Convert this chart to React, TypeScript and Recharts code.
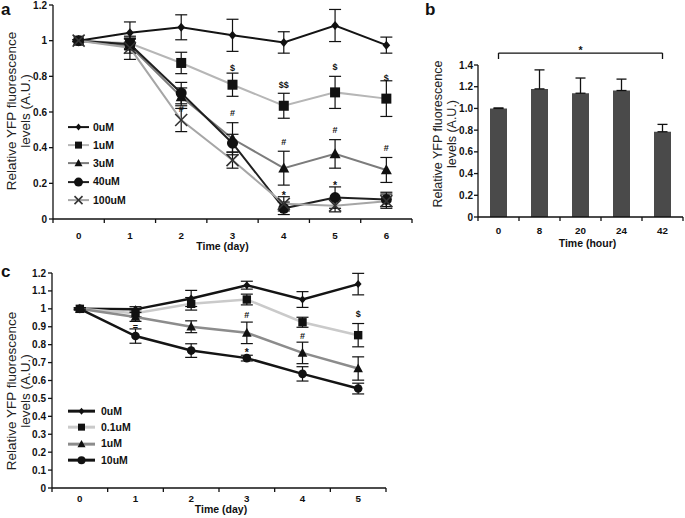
import React from 'react';
import {
  LineChart,
  Line,
  BarChart,
  Bar,
  XAxis,
  YAxis,
  ErrorBar,
  Legend,
  ReferenceDot,
  ReferenceLine,
} from 'recharts';

const FONT = '"Liberation Sans", Arial, Helvetica, sans-serif';
const INK = '#111';

// ---- panel a: days 0-6, five doses
const daysA = [0, 1, 2, 3, 4, 5, 6];
const a0uM = [1.0, 1.045, 1.075, 1.03, 0.99, 1.085, 0.975];
const a0uMErr = [0.005, 0.06, 0.07, 0.09, 0.06, 0.09, 0.045];
const a1uM = [1.0, 0.985, 0.875, 0.753, 0.635, 0.71, 0.675];
const a1uMErr = [0.005, 0.03, 0.06, 0.065, 0.07, 0.09, 0.1];
const a3uM = [1.0, 0.97, 0.685, 0.45, 0.285, 0.365, 0.275];
const a3uMErr = [0.005, 0.04, 0.05, 0.09, 0.095, 0.08, 0.07];
const a40uM = [1.0, 0.98, 0.706, 0.425, 0.06, 0.12, 0.11];
const a40uMErr = [0.005, 0.03, 0.06, 0.05, 0.035, 0.06, 0.04];
const a100uM = [1.0, 0.96, 0.555, 0.33, 0.085, 0.075, 0.1];
const a100uMErr = [0.005, 0.065, 0.065, 0.045, 0.04, 0.035, 0.04];
const ticksYA = [0, 0.2, 0.4, 0.6, 0.8, 1, 1.2];
const ticksXA = [-0.5, 0, 0.5, 1, 1.5, 2, 2.5, 3, 3.5, 4, 4.5, 5, 5.5, 6, 6.5];
const marksA = [
  { x: 2, y: 0.615, t: '#' },
  { x: 3, y: 0.85, t: '$' },
  { x: 3, y: 0.595, t: '#' },
  { x: 4, y: 0.753, t: '$$' },
  { x: 4, y: 0.43, t: '#' },
  { x: 4, y: 0.153, t: '*' },
  { x: 5, y: 0.855, t: '$' },
  { x: 5, y: 0.5, t: '#' },
  { x: 5, y: 0.21, t: '*' },
  { x: 6, y: 0.79, t: '$' },
  { x: 6, y: 0.4, t: '#' },
];

// ---- panel b: hours
const hoursB = ['0', '8', '20', '24', '42'];
const valsB = [1.0, 1.18, 1.14, 1.165, 0.785];
const errB = [0.004, 0.175, 0.14, 0.105, 0.068];
const ticksYB = [0, 0.2, 0.4, 0.6, 0.8, 1.0, 1.2, 1.4];
const ticksXB = [-0.5, 0, 0.5, 1, 1.5, 2, 2.5, 3, 3.5, 4, 4.5];
const bracketB = { from: 0, to: 4, top: 1.51, foot: 1.455, star: 1.565 };

// ---- panel c: days 0-5, four doses
const daysC = [0, 1, 2, 3, 4, 5];
const c0uM = [1.0, 0.997, 1.058, 1.132, 1.052, 1.138];
const c0uMErr = [0.005, 0.015, 0.045, 0.022, 0.044, 0.06];
const c01uM = [1.0, 0.975, 1.028, 1.052, 0.925, 0.853];
const c01uMErr = [0.005, 0.02, 0.035, 0.03, 0.028, 0.065];
const c1uM = [1.0, 0.955, 0.9, 0.866, 0.754, 0.667];
const c1uMErr = [0.005, 0.025, 0.033, 0.06, 0.06, 0.065];
const c10uM = [1.0, 0.848, 0.767, 0.725, 0.637, 0.555];
const c10uMErr = [0.005, 0.04, 0.038, 0.016, 0.04, 0.03];
const ticksYC = [0, 0.1, 0.2, 0.3, 0.4, 0.5, 0.6, 0.7, 0.8, 0.9, 1, 1.1, 1.2];
const ticksXC = [-0.5, 0, 0.5, 1, 1.5, 2, 2.5, 3, 3.5, 4, 4.5, 5, 5.5];
const marksC = [
  { x: 1, y: 0.9, t: '=' },
  { x: 3, y: 0.965, t: '#' },
  { x: 3, y: 0.775, t: '*' },
  { x: 4, y: 0.85, t: '#' },
  { x: 5, y: 0.974, t: '$' },
];

const dataA = daysA.map((d, i) => ({
  day: d,
  v0: a0uM[i], e0: a0uMErr[i],
  v1: a1uM[i], e1: a1uMErr[i],
  v3: a3uM[i], e3: a3uMErr[i],
  v40: a40uM[i], e40: a40uMErr[i],
  v100: a100uM[i], e100: a100uMErr[i],
}));

const dataB = hoursB.map((h, i) => ({ idx: i, hour: h, v: valsB[i], e: [0, errB[i]] }));

const dataC = daysC.map((d, i) => ({
  day: d,
  v0: c0uM[i], e0: c0uMErr[i],
  v01: c01uM[i], e01: c01uMErr[i],
  v1: c1uM[i], e1: c1uMErr[i],
  v10: c10uM[i], e10: c10uMErr[i],
}));

type Shape = 'diamond' | 'square' | 'triangle' | 'circle' | 'cross';
interface Series {
  key: string;
  err: string;
  name: string;
  color: string;
  shape: Shape;
  size: number;
  legendSize: number;
  width: number;
}

const seriesA: Series[] = [
  { key: 'v0', err: 'e0', name: '0uM', color: '#141414', shape: 'diamond', size: 4.5, legendSize: 3.5, width: 2 },
  { key: 'v1', err: 'e1', name: '1uM', color: '#b6b6b6', shape: 'square', size: 5, legendSize: 3.5, width: 2 },
  { key: 'v3', err: 'e3', name: '3uM', color: '#7c7c7c', shape: 'triangle', size: 5.5, legendSize: 4, width: 2 },
  { key: 'v40', err: 'e40', name: '40uM', color: '#202020', shape: 'circle', size: 5.5, legendSize: 4.5, width: 2 },
  { key: 'v100', err: 'e100', name: '100uM', color: '#a6a6a6', shape: 'cross', size: 6, legendSize: 4, width: 2 },
];

const seriesC: Series[] = [
  { key: 'v0', err: 'e0', name: '0uM', color: '#141414', shape: 'diamond', size: 4, legendSize: 3.5, width: 2.5 },
  { key: 'v01', err: 'e01', name: '0.1uM', color: '#cacaca', shape: 'square', size: 4.2, legendSize: 3.5, width: 2.5 },
  { key: 'v1', err: 'e1', name: '1uM', color: '#8c8c8c', shape: 'triangle', size: 4.8, legendSize: 4, width: 2.5 },
  { key: 'v10', err: 'e10', name: '10uM', color: '#141414', shape: 'circle', size: 4.3, legendSize: 4, width: 2.5 },
];

function marker(shape: Shape, cx: number, cy: number, s: number, fill = INK) {
  switch (shape) {
    case 'diamond':
      return <polygon points={`${cx},${cy - s} ${cx + s * 0.85},${cy} ${cx},${cy + s} ${cx - s * 0.85},${cy}`} fill={fill} />;
    case 'square':
      return <rect x={cx - s} y={cy - s} width={2 * s} height={2 * s} fill={fill} />;
    case 'triangle':
      return <polygon points={`${cx},${cy - s * 1.05} ${cx + s},${cy + s * 0.8} ${cx - s},${cy + s * 0.8}`} fill={fill} />;
    case 'circle':
      return <circle cx={cx} cy={cy} r={s} fill={fill} />;
    default:
      return (
        <g stroke="#333" strokeWidth={1.6}>
          <line x1={cx - s} y1={cy - s} x2={cx + s} y2={cy + s} />
          <line x1={cx - s} y1={cy + s} x2={cx + s} y2={cy - s} />
        </g>
      );
  }
}

const fmtPlain = (v: number) => String(Number(v.toFixed(1)));
const fmtFixed = (v: number) => (v === 0 ? '0' : v.toFixed(1));

// integer ticks carry labels, half ticks carry the small marks
const makeXTick = (offset: number, label: (v: number) => string) => (props: any) => {
  const { x, y, payload } = props;
  const v = payload.value as number;
  if (Number.isInteger(v)) {
    return (
      <text x={x} y={y} dy="0.71em" textAnchor="middle" fill={INK} fontSize={9.8} fontWeight="bold" fontFamily={FONT}>
        {label(v)}
      </text>
    );
  }
  return <line x1={x} x2={x} y1={y - offset} y2={y - offset + 4} stroke={INK} strokeWidth={1.3} />;
};

const yTitle = (x: number, y: number, size: number, gap: number) => () => (
  <text transform={`translate(${x},${y}) rotate(-90)`} textAnchor="middle" fontSize={size} fill="#222" fontFamily={FONT}>
    <tspan x={0} dy={0}>Relative YFP fluorescence</tspan>
    <tspan x={0} dy={gap}>levels (A.U.)</tspan>
  </text>
);

const xTitle = (text: string, x: number, y: number) => () => (
  <text x={x} y={y} textAnchor="middle" fontSize={10.5} fontWeight="bold" fill={INK} fontFamily={FONT}>
    {text}
  </text>
);

const markShape = (t: string) => (p: any) => (
  <text
    x={p.cx}
    y={p.cy}
    dy={t === '*' ? '0.7em' : '0.35em'}
    textAnchor="middle"
    fontSize={t === '*' ? 10.5 : 9}
    fontWeight="bold"
    fill={INK}
    fontFamily={FONT}
  >
    {t}
  </text>
);

function LegendBox({ series, rowH, lineW, lineStroke, gap }: { series: Series[]; rowH: number; lineW: number; lineStroke: number; gap: number }) {
  return (
    <div style={{ fontFamily: FONT, fontWeight: 'bold', fontSize: 10.5, color: INK }}>
      {series.map((s) => (
        <div key={s.name} style={{ display: 'flex', alignItems: 'center', height: rowH }}>
          <svg width={lineW} height={rowH} style={{ display: 'block' }}>
            <line x1={0} x2={lineW} y1={rowH / 2} y2={rowH / 2} stroke={s.color} strokeWidth={lineStroke} />
            {marker(s.shape, lineW / 2, rowH / 2, s.legendSize)}
          </svg>
          <span style={{ marginLeft: gap, lineHeight: 1 }}>{s.name}</span>
        </div>
      ))}
    </div>
  );
}

const yTick = { fill: INK, fontSize: 10, fontWeight: 'bold', fontFamily: FONT };

function renderLines(series: Series[], capW: number) {
  return series.map((s) => (
    <Line
      key={s.key}
      type="linear"
      dataKey={s.key}
      name={s.name}
      stroke={s.color}
      strokeWidth={s.width}
      isAnimationActive={false}
      dot={(p: any) => <g key={`${s.key}-${p.index}`}>{marker(s.shape, p.cx, p.cy, s.size)}</g>}
      activeDot={false}
    >
      <ErrorBar dataKey={s.err} width={capW} stroke={INK} strokeWidth={1.2} direction="y" />
    </Line>
  ));
}

export default function App() {
  return (
    <div style={{ position: 'absolute', left: 0, top: 0, width: 685, height: 518, background: '#fff', overflow: 'hidden' }}>
      {/* panel a */}
      <div style={{ position: 'absolute', left: 0, top: 0 }}>
        <LineChart width={420} height={256} data={dataA} margin={{ top: 5, right: 8, bottom: 0, left: 0 }}>
          <XAxis
            dataKey="day"
            type="number"
            domain={[-0.5, 6.5]}
            ticks={ticksXA}
            interval={0}
            height={37}
            tickSize={4}
            tickMargin={9}
            tickLine={false}
            stroke={INK}
            strokeWidth={1.3}
            tick={makeXTick(13, (v) => String(v))}
            label={{ content: xTitle('Time (day)', 222.5, 250) }}
          />
          <YAxis
            type="number"
            domain={[0, 1.2]}
            ticks={ticksYA}
            interval={0}
            width={53}
            tickSize={4}
            tickMargin={2}
            stroke={INK}
            strokeWidth={1.3}
            tick={yTick}
            tickFormatter={fmtPlain}
            label={{ content: yTitle(16, 111, 13.5, 13.5) }}
          />
          {renderLines(seriesA, 6)}
          {marksA.map((m, i) => (
            <ReferenceDot key={i} x={m.x} y={m.y} r={1} ifOverflow="visible" shape={markShape(m.t)} />
          ))}
          <Legend
            layout="vertical"
            align="center"
            verticalAlign="middle"
            wrapperStyle={{ left: 68, top: 118, width: 90 }}
            content={() => <LegendBox series={seriesA} rowH={18.2} lineW={21} lineStroke={2} gap={4} />}
          />
        </LineChart>
      </div>

      {/* panel b */}
      <div style={{ position: 'absolute', left: 400, top: 0 }}>
        <BarChart width={285} height={256} data={dataB} margin={{ top: 65, right: 2, bottom: 0, left: 0 }}>
          <XAxis
            dataKey="idx"
            type="number"
            domain={[-0.5, 4.5]}
            ticks={ticksXB}
            interval={0}
            height={39}
            tickSize={4}
            tickMargin={6}
            tickLine={false}
            stroke={INK}
            strokeWidth={1.3}
            tick={makeXTick(10, (v) => hoursB[v])}
            label={{ content: xTitle('Time (hour)', 187.5, 247) }}
          />
          <YAxis
            type="number"
            domain={[0, 1.4]}
            ticks={ticksYB}
            interval={0}
            width={78}
            tickSize={4}
            tickMargin={1}
            stroke={INK}
            strokeWidth={1.3}
            tick={yTick}
            tickFormatter={fmtFixed}
            label={{ content: yTitle(42, 134, 12.5, 13.5) }}
          />
          <Bar dataKey="v" fill="#4a4a4a" barSize={17} isAnimationActive={false}>
            <ErrorBar dataKey="e" width={5} stroke={INK} strokeWidth={1.3} direction="y" />
          </Bar>
          <ReferenceLine
            segment={[{ x: bracketB.from, y: bracketB.top }, { x: bracketB.to, y: bracketB.top }]}
            stroke={INK}
            strokeWidth={1.3}
            ifOverflow="visible"
          />
          <ReferenceLine
            segment={[{ x: bracketB.from, y: bracketB.top }, { x: bracketB.from, y: bracketB.foot }]}
            stroke={INK}
            strokeWidth={1.3}
            ifOverflow="visible"
          />
          <ReferenceLine
            segment={[{ x: bracketB.to, y: bracketB.top }, { x: bracketB.to, y: bracketB.foot }]}
            stroke={INK}
            strokeWidth={1.3}
            ifOverflow="visible"
          />
          <ReferenceDot x={2} y={bracketB.star} r={1} ifOverflow="visible" shape={markShape('*')} />
        </BarChart>
      </div>

      {/* panel c */}
      <div style={{ position: 'absolute', left: 0, top: 260 }}>
        <LineChart width={400} height={258} data={dataC} margin={{ top: 13, right: 14, bottom: 0, left: 0 }}>
          <XAxis
            dataKey="day"
            type="number"
            domain={[-0.5, 5.5]}
            ticks={ticksXC}
            interval={0}
            height={30}
            tickSize={4}
            tickMargin={3.5}
            tickLine={false}
            stroke={INK}
            strokeWidth={1.3}
            tick={makeXTick(7.5, (v) => String(v))}
            label={{ content: xTitle('Time (day)', 221, 253) }}
          />
          <YAxis
            type="number"
            domain={[0, 1.2]}
            ticks={ticksYC}
            interval={0}
            width={52}
            tickSize={4}
            tickMargin={2}
            stroke={INK}
            strokeWidth={1.3}
            tick={yTick}
            tickFormatter={fmtPlain}
            label={{ content: yTitle(16, 131, 13.5, 13.5) }}
          />
          {renderLines(seriesC, 6)}
          {marksC.map((m, i) => (
            <ReferenceDot key={i} x={m.x} y={m.y} r={1} ifOverflow="visible" shape={markShape(m.t)} />
          ))}
          <Legend
            layout="vertical"
            align="center"
            verticalAlign="middle"
            wrapperStyle={{ left: 68, top: 143, width: 90 }}
            content={() => <LegendBox series={seriesC} rowH={16.3} lineW={27} lineStroke={3} gap={6} />}
          />
        </LineChart>
      </div>

      {/* panel letters */}
      <svg width={685} height={518} style={{ position: 'absolute', left: 0, top: 0, pointerEvents: 'none' }}>
        <text x={1} y={15} fontSize={17} fontWeight="bold" fill={INK} fontFamily={FONT}>a</text>
        <text x={425} y={15} fontSize={17} fontWeight="bold" fill={INK} fontFamily={FONT}>b</text>
        <text x={1} y={277} fontSize={17} fontWeight="bold" fill={INK} fontFamily={FONT}>c</text>
      </svg>
    </div>
  );
}
